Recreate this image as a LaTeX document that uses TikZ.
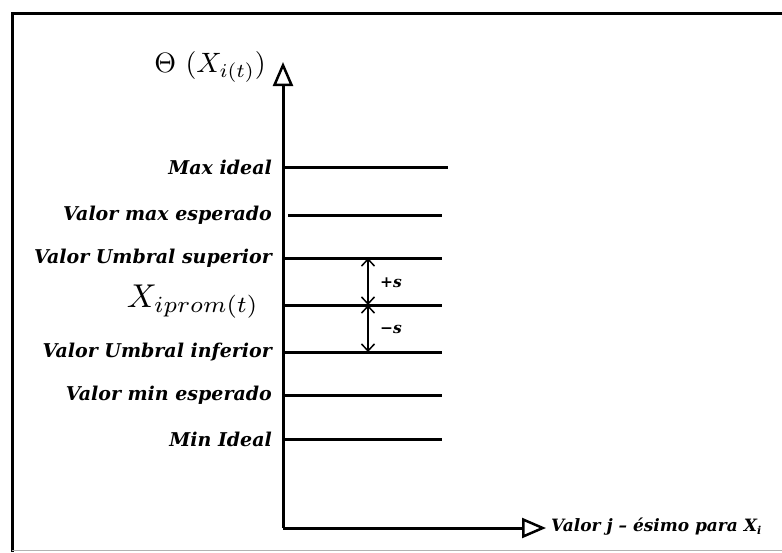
\documentclass[tikz,border=0pt]{standalone}
\usepackage{amsmath}
\usepackage{fontspec}
\newfontfamily\lblfont{DejaVu Serif}
\usetikzlibrary{arrows.meta}
\begin{document}
\begin{tikzpicture}[x=1pt,y=-1pt,
  frameline/.style={line width=3pt},
  axisline/.style={line width=3pt,-{Triangle[open,length=24pt,width=20pt,line width=2.5pt]}},
  level/.style={line width=3pt},
  lbl/.style={anchor=east,inner sep=0pt,font=\lblfont\fontsize{19}{21}\selectfont\bfseries\itshape},
  dim/.style={line width=1.5pt,{Straight Barb[length=7pt,width=13pt]}-{Straight Barb[length=7pt,width=13pt]}},
  small/.style={anchor=west,inner sep=0pt,font=\lblfont\fontsize{15.5}{17}\selectfont\bfseries\itshape},
  axlbl/.style={anchor=west,inner sep=0pt,font=\lblfont\fontsize{17}{19}\selectfont\bfseries\itshape}]
\useasboundingbox (0,0) rectangle (782,552);
% frame
\draw[frameline] (782,13) -- (12,13) -- (12,552);
\draw[line width=1pt,black!30] (12,550) -- (782,550);
% axes
\coordinate (O) at (283,528);
\coordinate (Ytop) at (283,62);
\coordinate (Xend) at (546,528);
\draw[axisline] (O) -- (Ytop);
\draw[axisline] (O) -- (Xend);
\node[anchor=base east,inner sep=0pt] (ylab) at (266,72) {\scalebox{2.8}{$\Theta\ (X_{i(t)})$}};
\node[axlbl] (xlab) at (551,527) {Valor j – ésimo para X\raisebox{-3pt}{\fontsize{11}{12}\selectfont i}};
% levels
\coordinate (a1) at (283,167); \coordinate (b1) at (448,167);
\coordinate (a2) at (288,215); \coordinate (b2) at (442,215);
\coordinate (a3) at (283,258); \coordinate (b3) at (442,258);
\coordinate (a4) at (283,305); \coordinate (b4) at (442,305);
\coordinate (a5) at (283,352); \coordinate (b5) at (442,352);
\coordinate (a6) at (283,395); \coordinate (b6) at (442,395);
\coordinate (a7) at (283,439); \coordinate (b7) at (442,439);
\foreach \i in {1,...,7} {\draw[level] (a\i) -- (b\i);}
\node[lbl] (l1) at (272,167) {Max ideal};
\node[lbl] (l2) at (272,215) {Valor max esperado};
\node[lbl] (l3) at (272,258) {Valor Umbral superior};
\node[anchor=base east,inner sep=0pt] (l4) at (259,307) {\scalebox{3.3}{$X_{iprom(t)}$}};
\node[lbl] (l5) at (272,352) {Valor Umbral inferior};
\node[lbl] (l6) at (272,395) {Valor min esperado};
\node[lbl] (l7) at (272,439) {Min Ideal};
% dimension arrows
\coordinate (d3) at (368,258);
\coordinate (d4) at (368,305);
\coordinate (d5) at (368,352);
\draw[dim] (d3) -- (d4);
\draw[dim] (d4) -- (d5);
\node[small] (ps) at (380,283) {+s};
\node[small] (ms) at (380,329) {−s};
\end{tikzpicture}
\end{document}
